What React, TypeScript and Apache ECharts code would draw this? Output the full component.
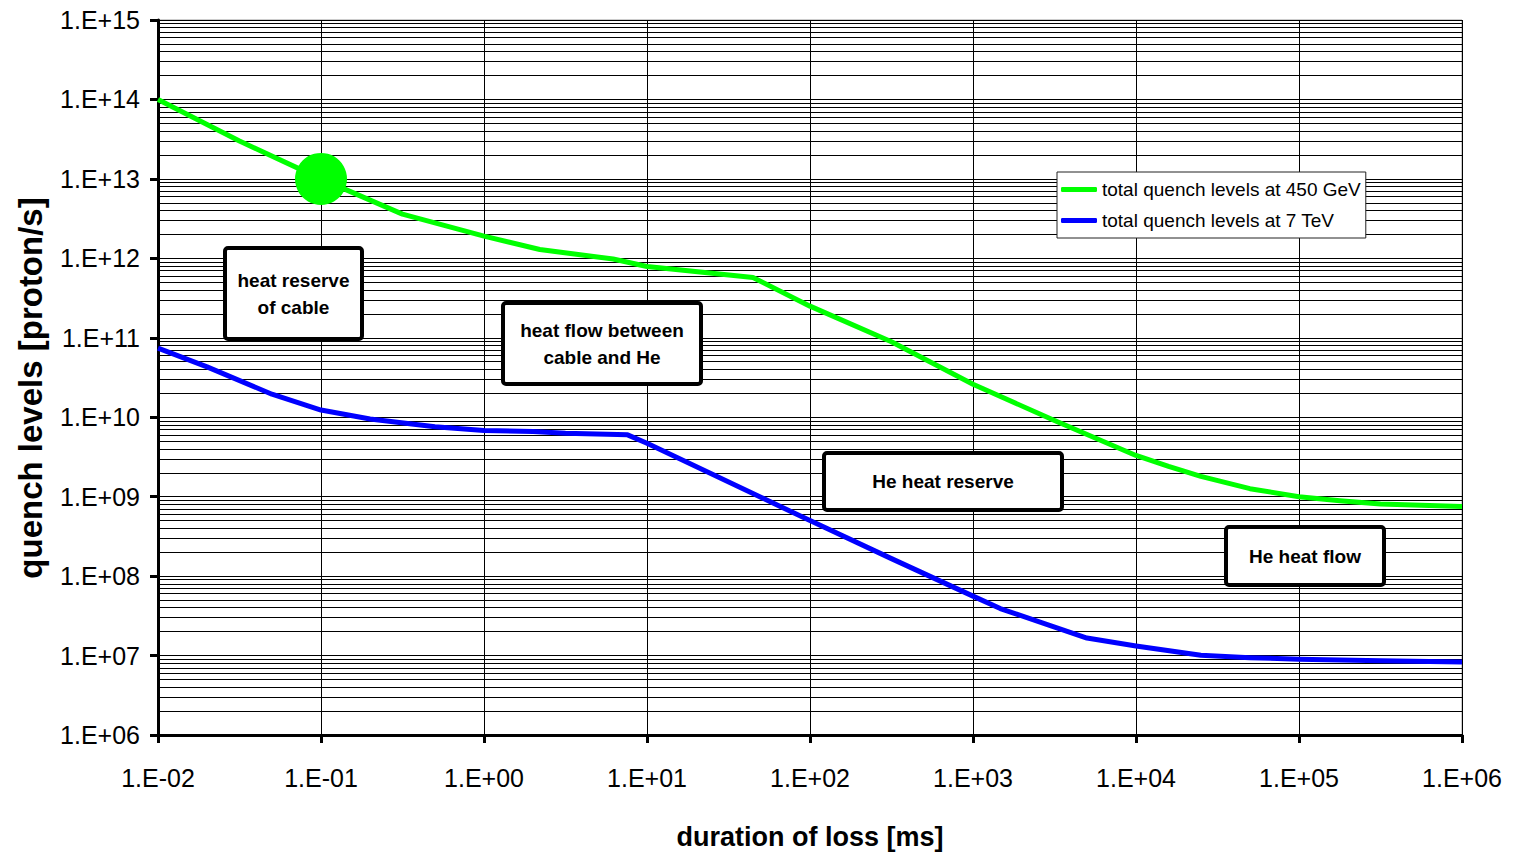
import React, { useEffect, useRef } from "react";
import * as echarts from "echarts";

// duration of loss [ms] and quench levels [proton/s]
const durationGreen = [0.01, 0.0316, 0.1, 0.316, 1, 2.2, 6.2, 10, 44.7, 100, 316, 1000, 3162, 10000, 15850, 25000, 50000, 100000, 178000, 316000, 562000, 1000000];
const levelsGreen = [1e14, 3.0e13, 1e13, 3.6e12, 1.9e12, 1.29e12, 9.8e11, 7.9e11, 5.75e11, 2.5e11, 8.9e10, 2.6e10, 9.1e9, 3.3e9, 2.4e9, 1.8e9, 1.26e9, 1.0e9, 8.9e8, 8.1e8, 7.8e8, 7.5e8];

const durationBlue = [0.01, 0.02, 0.05, 0.1, 0.2, 0.5, 1, 2, 3.16, 7.6, 10, 100, 316, 1000, 1470, 2950, 5000, 10000, 25000, 50000, 100000, 316000, 1000000];
const levelsBlue = [7.4e10, 4.3e10, 1.95e10, 1.23e10, 9.5e9, 7.6e9, 6.8e9, 6.6e9, 6.3e9, 6.0e9, 4.7e9, 5.0e8, 1.66e8, 5.6e7, 3.9e7, 2.4e7, 1.66e7, 1.32e7, 1.01e7, 9.4e6, 9.0e6, 8.6e6, 8.3e6];

const markerPoint = [[0.1, 1e13]];

const seriesNames = ["total quench levels at 450 GeV", "total quench levels at 7 TeV"];
const xAxisTitle = "duration of loss [ms]";
const yAxisTitle = "quench levels [proton/s]";
const xRange = [0.01, 1e6];
const yRange = [1e6, 1e15];

const annotationTexts = [
  "heat reserve\nof cable",
  "heat flow between\ncable and He",
  "He heat reserve",
  "He heat flow",
];

const FONT = "'Liberation Sans', Arial, Helvetica, sans-serif";

function sciLabel(v: number): string {
  const e = Math.round(Math.log10(v));
  const sign = e < 0 ? "-" : "+";
  return "1.E" + sign + String(Math.abs(e)).padStart(2, "0");
}

export default function App() {
  const ref = useRef<HTMLDivElement>(null);
  useEffect(() => {
    if (!ref.current) return;
    const chart = echarts.init(ref.current, undefined, { renderer: "svg" });

    const minorLines: { yAxis: number }[] = [];
    const e0 = Math.round(Math.log10(yRange[0]));
    const e1 = Math.round(Math.log10(yRange[1]));
    for (let e = e0; e < e1; e++) {
      for (let m = 2; m <= 9; m++) minorLines.push({ yAxis: m * Math.pow(10, e) });
    }

    const boxes = [
      { x: 225, y: 248, w: 137, h: 91 },
      { x: 503, y: 303, w: 198, h: 81 },
      { x: 824, y: 453, w: 238, h: 57 },
      { x: 1226, y: 527, w: 158, h: 58 },
    ];
    const graphic: any[] = [];
    boxes.forEach((b, i) => {
      graphic.push({
        type: "rect",
        z: 100,
        shape: { x: b.x, y: b.y, width: b.w, height: b.h, r: 3 },
        style: { fill: "#fff", stroke: "#000", lineWidth: 4 },
      });
      graphic.push({
        type: "text",
        z: 101,
        x: b.x + b.w / 2,
        y: b.y + b.h / 2,
        style: {
          text: annotationTexts[i],
          align: "center",
          verticalAlign: "middle",
          fontSize: 19,
          fontWeight: "bold",
          fontFamily: FONT,
          lineHeight: 27,
          fill: "#000",
        },
      });
    });
    graphic.push({
      type: "text",
      z: 10,
      x: 30,
      y: 388,
      rotation: Math.PI / 2,
      style: {
        text: yAxisTitle,
        align: "center",
        verticalAlign: "middle",
        fontSize: 33,
        fontWeight: "bold",
        fontFamily: FONT,
        fill: "#000",
      },
    });

    chart.setOption({
      animation: false,
      backgroundColor: "#fff",
      grid: {
        left: 158,
        right: 51,
        top: 20,
        bottom: 118,
        show: true,
        borderColor: "#999",
        borderWidth: 1,
      },
      legend: {
        data: seriesNames.map((n) => ({ name: n, icon: "roundRect" })),
        orient: "vertical",
        left: 1057,
        top: 172,
        z: 50,
        itemWidth: 36,
        itemHeight: 5,
        itemGap: 12,
        padding: [8, 5, 8, 4],
        backgroundColor: "#fff",
        borderColor: "#222",
        borderWidth: 1,
        textStyle: { fontSize: 19, color: "#000", fontFamily: FONT },
      },
      xAxis: {
        type: "log",
        logBase: 10,
        min: xRange[0],
        max: xRange[1],
        splitNumber: 8,
        name: xAxisTitle,
        nameLocation: "middle",
        nameGap: 88,
        nameTextStyle: { fontSize: 27, fontWeight: "bold", color: "#000", fontFamily: FONT },
        axisLine: { lineStyle: { color: "#000", width: 3 } },
        axisTick: { show: true, length: 8, lineStyle: { color: "#000", width: 3 } },
        axisLabel: { formatter: sciLabel, fontSize: 25, color: "#000", fontFamily: FONT, margin: 30 },
        splitLine: { show: true, lineStyle: { color: "#000", width: 1 } },
      },
      yAxis: {
        type: "log",
        logBase: 10,
        min: yRange[0],
        max: yRange[1],
        splitNumber: 9,
        axisLine: { lineStyle: { color: "#000", width: 3 } },
        axisTick: { show: true, length: 8, lineStyle: { color: "#000", width: 3 } },
        axisLabel: { formatter: sciLabel, fontSize: 25, color: "#000", fontFamily: FONT, margin: 18 },
        splitLine: { show: true, lineStyle: { color: "#000", width: 1 } },
      },
      graphic,
      series: [
        {
          name: "grid-minor",
          type: "line",
          data: [],
          z: 1,
          silent: true,
          markLine: {
            silent: true,
            symbol: "none",
            label: { show: false },
            lineStyle: { color: "#000", width: 1, type: "solid" },
            data: minorLines,
          },
        },
        {
          name: seriesNames[0],
          type: "line",
          data: durationGreen.map((d, i) => [d, levelsGreen[i]]),
          symbol: "none",
          showSymbol: false,
          lineStyle: { color: "#00ff00", width: 5, join: "round" },
          itemStyle: { color: "#00ff00" },
          z: 5,
        },
        {
          name: seriesNames[1],
          type: "line",
          data: durationBlue.map((d, i) => [d, levelsBlue[i]]),
          symbol: "none",
          showSymbol: false,
          lineStyle: { color: "#0000ff", width: 5, join: "round" },
          itemStyle: { color: "#0000ff" },
          z: 5,
        },
        {
          name: "marker",
          type: "scatter",
          data: markerPoint,
          symbol: "circle",
          symbolSize: 52,
          itemStyle: { color: "#00ff00", opacity: 1 },
          z: 6,
        },
      ],
    });
    return () => chart.dispose();
  }, []);
  return (
    <div
      ref={ref}
      style={{ position: "fixed", left: 0, top: 0, width: 1513, height: 855 }}
    />
  );
}
